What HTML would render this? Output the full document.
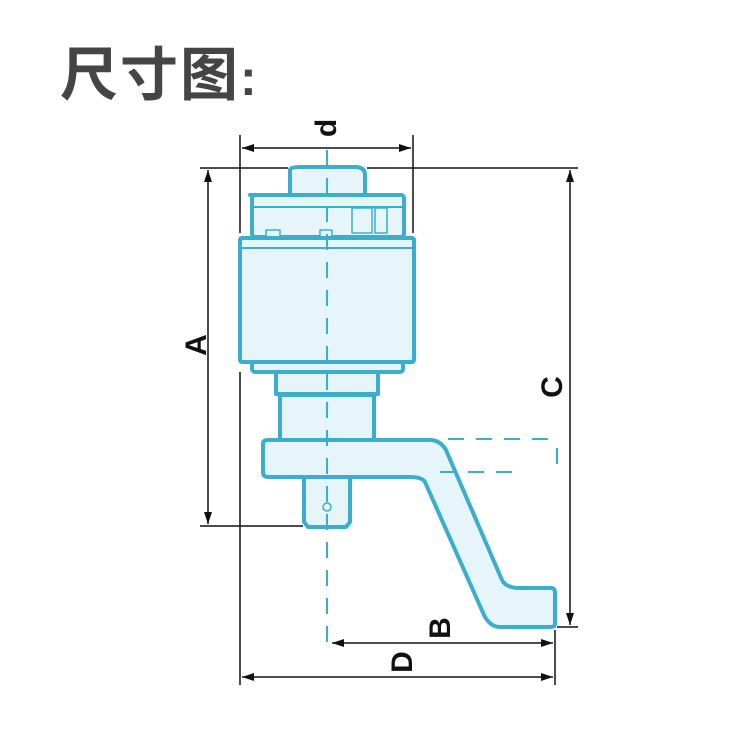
<!DOCTYPE html><html><head><meta charset="utf-8"><style>body{margin:0;background:#fff}svg{display:block}</style></head><body>
<svg width="750" height="750" viewBox="0 0 750 750" xmlns="http://www.w3.org/2000/svg">
<text x="60" y="95" font-family="Liberation Sans,Noto Sans CJK SC,sans-serif" font-weight="bold" font-size="58" letter-spacing="2" fill="#454545">尺寸图<tspan font-size="50">:</tspan></text>
<defs><marker id="ar" markerWidth="12" markerHeight="8" refX="12" refY="4" orient="auto-start-reverse" markerUnits="userSpaceOnUse"><path d="M0,0L12,4L0,8z" fill="#111"/></marker></defs>
<g fill="#e6f5fa" stroke="#3aaecc" stroke-width="4" stroke-linejoin="round">
<path d="M290,195 V170 Q290,167 300,167 H355 Q365,167 365,175 V195 L385,195 H250 Z"/>
<rect x="252" y="195" width="152" height="42" rx="3"/>
<line x1="252" y1="207" x2="404" y2="207" stroke-width="2"/>
<rect x="352" y="208" width="20" height="25" stroke-width="1.5"/><rect x="375" y="208" width="12" height="25" stroke-width="1.5"/>
<rect x="266" y="230" width="14" height="8" stroke-width="1.5"/><rect x="320" y="230" width="12" height="8" stroke-width="1.5"/>
<rect x="240" y="238" width="174" height="124" rx="2"/>
<line x1="240" y1="248" x2="414" y2="248" stroke-width="2"/>
<rect x="252" y="362" width="151" height="10" rx="3"/>
<rect x="276" y="372" width="102" height="22"/>
<rect x="280" y="395" width="94" height="46"/>
<path d="M263,444 Q263,440 268,440 H430 Q440,440 446,450 L502,580 Q506,588 520,588 H551 Q555,588 555,593 V624 Q555,627 550,627 H500 Q490,627 484,615 L425,482 Q422,477 410,477 H268 Q263,477 263,472 Z"/>
<path d="M304,477 H350 V522 L346,527 H308 L304,522 Z"/>
<circle cx="327" cy="507" r="4" stroke-width="1.5"/>
</g>
<g stroke="#3aaecc" stroke-width="2" stroke-dasharray="16,12" fill="none">
<line x1="327" y1="150" x2="327" y2="645"/>
<line x1="448" y1="439" x2="555" y2="439"/>
<line x1="440" y1="472" x2="520" y2="472"/>
<line x1="557" y1="448" x2="557" y2="472"/>
</g>
<g stroke="#111" stroke-width="1.5" fill="none">
<line x1="240" y1="135" x2="240" y2="233"/><line x1="413" y1="135" x2="413" y2="233"/>
<line x1="242" y1="148" x2="411" y2="148" marker-start="url(#ar)" marker-end="url(#ar)"/>
<line x1="200" y1="168" x2="288" y2="168"/><line x1="200" y1="526" x2="303" y2="526"/>
<line x1="208" y1="170" x2="208" y2="524" marker-start="url(#ar)" marker-end="url(#ar)"/>
<line x1="367" y1="168" x2="578" y2="168"/><line x1="557" y1="627" x2="578" y2="627"/>
<line x1="570" y1="170" x2="570" y2="625" marker-start="url(#ar)" marker-end="url(#ar)"/>
<line x1="240" y1="372" x2="240" y2="685"/><line x1="555" y1="630" x2="555" y2="685"/>
<line x1="332" y1="643" x2="553" y2="643" marker-start="url(#ar)" marker-end="url(#ar)"/>
<line x1="242" y1="677" x2="553" y2="677" marker-start="url(#ar)" marker-end="url(#ar)"/>
</g>
<g font-family="Liberation Sans,sans-serif" font-weight="bold" font-size="30" fill="#111" text-anchor="middle">
<text transform="translate(326,128) rotate(-90)" dy="10">d</text>
<text transform="translate(196,345) rotate(-90)" dy="10">A</text>
<text transform="translate(552,387) rotate(-90)" dy="10">C</text>
<text transform="translate(440,628) rotate(-90)" dy="10">B</text>
<text transform="translate(402,662) rotate(-90)" dy="10">D</text>
</g>
</svg></body></html>
